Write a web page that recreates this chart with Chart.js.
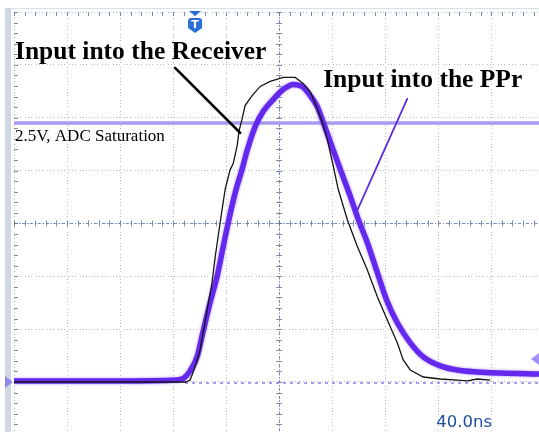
<!DOCTYPE html>
<html>
<head>
<meta charset="utf-8">
<title>Receiver / PPr input pulse</title>
<style>
  html, body { margin: 0; padding: 0; background: #ffffff; overflow: hidden; }
  #wrap { width: 539px; height: 432px; position: relative; }
</style>
<script src="https://cdn.jsdelivr.net/npm/chart.js@4.4.1/dist/chart.umd.min.js"></script>
</head>
<body>
<div id="wrap"><canvas id="scope" width="539" height="432"></canvas></div>
<script>
// Time axis in ns, amplitude in V.
const ppTime  = [0, 34.7, 80, 123, 128.3, 132.8, 138.1, 142.6, 147.9, 153.2, 157.7, 161.5, 166.8, 172.1, 175.8, 181.9, 187.9, 195.5, 203, 210.6, 217.4, 223.4, 228.7, 232.5, 238.5, 246, 253.6, 259.6, 266.4, 274, 281.5, 289.1, 298.9, 308.7, 321.5, 334.3, 349.4, 366.8, 396];
const ppVolts = [0.01, 0.01, 0.01, 0.019, 0.039, 0.107, 0.242, 0.485, 0.766, 1.018, 1.300, 1.532, 1.823, 2.056, 2.231, 2.464, 2.609, 2.725, 2.822, 2.871, 2.851, 2.764, 2.658, 2.531, 2.318, 2.056, 1.794, 1.571, 1.348, 1.057, 0.776, 0.572, 0.378, 0.242, 0.155, 0.116, 0.097, 0.087, 0.078];

const rxTime  = [0, 129.8, 132.8, 136.6, 140.4, 145.7, 149.4, 151.7, 154.0, 157.0, 159.3, 163.0, 165.3, 168.3, 169.8, 172.1, 174.3, 179.6, 185.7, 193.2, 203.0, 212.1, 218.1, 223.4, 228.7, 232.5, 236.2, 240.8, 244.5, 251.3, 258.9, 266.4, 274, 281.5, 289.1, 293.6, 298.9, 308.7, 321.5, 334.3, 341.9, 349.4, 359.2];
const rxVolts = [0, 0, 0.019, 0.145, 0.310, 0.698, 0.960, 1.203, 1.406, 1.668, 1.862, 2.047, 2.105, 2.279, 2.425, 2.541, 2.667, 2.764, 2.852, 2.900, 2.939, 2.939, 2.881, 2.803, 2.638, 2.512, 2.347, 2.085, 1.862, 1.571, 1.309, 1.086, 0.824, 0.601, 0.378, 0.213, 0.116, 0.048, 0.029, 0.019, 0.010, 0.029, 0.019];

const saturationLevel = 2.5;
const saturationText  = '2.5V, ADC Saturation';
const groundRefLevel  = -0.01;
const groundRefStart  = 129;
const triggerTime     = 136.6;
const triggerLevel    = 0.222;
const timeBaseText    = '40.0ns';
const nsPerDiv        = 40;
const voltsPerDiv     = 0.51;
const rxLabel = 'Input into the Receiver';
const ppLabel = 'Input into the PPr';

// annotation anchors (data units)
const rxLabelAt   = { x: 0.75, y: 3.113 };
const ppLabelAt   = { x: 233.2, y: 2.843 };
const satLabelAt  = { x: 0.75, y: 2.326 };
const baseLabelAt = { x: 318.5, y: -0.434 };
const rxPointer   = [{ x: 121.5, y: 3.031 }, { x: 170.6, y: 2.403 }];
const ppPointer   = [{ x: 296.6, y: 2.732 }, { x: 258.1, y: 1.631 }];

const X_MIN = 0, X_MAX = 396;
const Y_MIN = -0.4825, Y_MAX = 3.57;

const zip = (xs, ys) => xs.map((x, i) => ({ x, y: ys[i] }));

const scopeDecor = {
  id: 'scopeDecor',
  beforeDraw(chart) {
    const { ctx, chartArea: a } = chart;
    ctx.save();
    ctx.fillStyle = '#ffffff';
    ctx.fillRect(0, 0, chart.width, chart.height);
    // frame bar on the left and faint top rule
    ctx.fillStyle = '#cfd7e2';
    ctx.fillRect(a.left - 9, a.top - 4, 6, chart.height);
    ctx.strokeStyle = '#d6e2ea';
    ctx.lineWidth = 1;
    ctx.beginPath();
    ctx.moveTo(a.left - 3, a.top - 3.5);
    ctx.lineTo(a.right, a.top - 3.5);
    ctx.stroke();
    ctx.restore();
  },
  beforeDatasetsDraw(chart) {
    const { ctx, chartArea: a, scales: { x, y } } = chart;
    ctx.save();
    const cx = x.getPixelForValue(5 * nsPerDiv);
    const cy = y.getPixelForValue(3 * voltsPerDiv);
    // center cross lines
    ctx.strokeStyle = 'rgba(80,110,160,0.75)';
    ctx.lineWidth = 1;
    ctx.setLineDash([3, 2, 1, 2]);
    ctx.beginPath();
    ctx.moveTo(a.left, Math.round(cy) + 0.5); ctx.lineTo(a.right, Math.round(cy) + 0.5);
    ctx.moveTo(Math.round(cx) + 0.5, a.top); ctx.lineTo(Math.round(cx) + 0.5, a.bottom);
    ctx.stroke();
    ctx.setLineDash([]);
    // minor ticks, five per division
    ctx.strokeStyle = 'rgba(90,115,160,0.8)';
    ctx.beginPath();
    for (let t = X_MIN; t <= X_MAX; t += nsPerDiv / 5) {
      const px = Math.round(x.getPixelForValue(t)) + 0.5;
      ctx.moveTo(px, a.top); ctx.lineTo(px, a.top + 4);
      ctx.moveTo(px, cy - 3); ctx.lineTo(px, cy + 3);
    }
    for (let v = -voltsPerDiv; v <= Y_MAX + 1e-6; v += voltsPerDiv / 5) {
      const py = Math.round(y.getPixelForValue(v)) + 0.5;
      if (py < a.top || py > a.bottom) continue;
      ctx.moveTo(a.left, py); ctx.lineTo(a.left + 4, py);
      ctx.moveTo(cx - 3, py); ctx.lineTo(cx + 3, py);
    }
    ctx.stroke();
    ctx.restore();
  },
  beforeDatasetDraw(chart, args) {
    const ds = chart.data.datasets[args.index];
    if (ds.glow) {
      const ctx = chart.ctx;
      ctx.save();
      ctx.shadowColor = ds.glow;
      ctx.shadowBlur = 3;
    }
  },
  afterDatasetDraw(chart, args) {
    const ds = chart.data.datasets[args.index];
    if (ds.glow) chart.ctx.restore();
  },
  afterDraw(chart) {
    const { ctx, chartArea: a, scales: { x, y } } = chart;
    const P = (p) => [x.getPixelForValue(p.x), y.getPixelForValue(p.y)];
    ctx.save();

    // channel ground marker (left) and trigger level marker (right)
    const gy = y.getPixelForValue(0);
    ctx.fillStyle = 'rgba(130,110,235,0.75)';
    ctx.beginPath();
    ctx.moveTo(a.left - 9, gy - 6); ctx.lineTo(a.left - 1, gy); ctx.lineTo(a.left - 9, gy + 6);
    ctx.closePath(); ctx.fill();
    const ty = y.getPixelForValue(triggerLevel);
    ctx.fillStyle = 'rgba(140,115,240,0.8)';
    ctx.beginPath();
    ctx.moveTo(a.right, ty - 6); ctx.lineTo(a.right - 8, ty); ctx.lineTo(a.right, ty + 6);
    ctx.closePath(); ctx.fill();

    // trigger position marker
    const tx = x.getPixelForValue(triggerTime);
    ctx.fillStyle = '#2b6fd6';
    ctx.beginPath();
    ctx.moveTo(tx - 6, a.top - 1); ctx.lineTo(tx + 6, a.top - 1); ctx.lineTo(tx, a.top + 4);
    ctx.closePath(); ctx.fill();
    ctx.beginPath();
    const sx = tx - 7, sy = a.top + 6, sw = 14, sh = 15;
    ctx.moveTo(sx + 3, sy);
    ctx.lineTo(sx + sw - 3, sy);
    ctx.quadraticCurveTo(sx + sw, sy, sx + sw, sy + 3);
    ctx.lineTo(sx + sw, sy + sh - 5);
    ctx.lineTo(tx, sy + sh);
    ctx.lineTo(sx, sy + sh - 5);
    ctx.lineTo(sx, sy + 3);
    ctx.quadraticCurveTo(sx, sy, sx + 3, sy);
    ctx.closePath(); ctx.fill();
    ctx.fillStyle = '#ffffff';
    ctx.font = 'bold 11px "DejaVu Sans", sans-serif';
    ctx.textAlign = 'center';
    ctx.textBaseline = 'middle';
    ctx.fillText('T', tx, sy + 7);

    // pointer lines
    ctx.lineCap = 'round';
    let p0 = P(rxPointer[0]), p1 = P(rxPointer[1]);
    ctx.strokeStyle = '#000000';
    ctx.lineWidth = 2.6;
    ctx.beginPath(); ctx.moveTo(p0[0], p0[1]); ctx.lineTo(p1[0], p1[1]); ctx.stroke();
    p0 = P(ppPointer[0]); p1 = P(ppPointer[1]);
    ctx.strokeStyle = '#5a2ee0';
    ctx.lineWidth = 1.8;
    ctx.beginPath(); ctx.moveTo(p0[0], p0[1]); ctx.lineTo(p1[0], p1[1]); ctx.stroke();

    // labels
    ctx.textAlign = 'left';
    ctx.textBaseline = 'alphabetic';
    ctx.fillStyle = '#000000';
    ctx.font = 'bold 25.5px "Liberation Serif", "Times New Roman", serif';
    let q = P(rxLabelAt); ctx.fillText(rxLabel, q[0], q[1]);
    q = P(ppLabelAt); ctx.fillText(ppLabel, q[0], q[1]);
    ctx.font = '17px "Liberation Serif", "Times New Roman", serif';
    q = P(satLabelAt); ctx.fillText(saturationText, q[0], q[1]);
    ctx.fillStyle = '#1f4fa3';
    ctx.font = '16.5px "DejaVu Sans", sans-serif';
    q = P(baseLabelAt); ctx.fillText(timeBaseText, q[0], q[1]);
    ctx.restore();
  }
};

new Chart(document.getElementById('scope'), {
  type: 'scatter',
  data: {
    datasets: [
      {
        label: rxLabel,
        data: zip(rxTime, rxVolts),
        showLine: true,
        borderColor: '#141414',
        borderWidth: 1.3,
        pointRadius: 0,
        tension: 0
      },
      {
        label: ppLabel,
        data: zip(ppTime, ppVolts),
        showLine: true,
        borderColor: '#6429ec',
        borderWidth: 5.5,
        pointRadius: 0,
        cubicInterpolationMode: 'monotone',
        glow: 'rgba(140,100,255,0.7)'
      },
      {
        label: saturationText,
        data: [{ x: X_MIN, y: saturationLevel }, { x: X_MAX, y: saturationLevel }],
        showLine: true,
        borderColor: '#a79bf0',
        borderWidth: 3.5,
        pointRadius: 0
      },
      {
        label: 'ground reference',
        data: [{ x: groundRefStart, y: groundRefLevel }, { x: X_MAX, y: groundRefLevel }],
        showLine: true,
        borderColor: '#8c7ee6',
        borderWidth: 1.5,
        borderDash: [3, 4],
        pointRadius: 0
      }
    ]
  },
  options: {
    responsive: false,
    animation: false,
    devicePixelRatio: 1,
    layout: { padding: { left: 14, top: 12, right: 0, bottom: 0 } },
    plugins: { legend: { display: false }, tooltip: { enabled: false } },
    scales: {
      x: {
        type: 'linear',
        min: X_MIN,
        max: X_MAX,
        afterBuildTicks(scale) {
          const t = [];
          for (let v = X_MIN; v <= X_MAX; v += nsPerDiv) t.push({ value: v });
          scale.ticks = t;
        },
        ticks: { display: false },
        grid: { color: 'rgba(120,140,175,0.6)', lineWidth: 1, drawTicks: false },
        border: { display: false, dash: [1, 2, 1, 2, 1, 4] }
      },
      y: {
        type: 'linear',
        min: Y_MIN,
        max: Y_MAX,
        afterBuildTicks(scale) {
          const t = [];
          for (let k = 0; k <= 7; k++) t.push({ value: +(k * voltsPerDiv).toFixed(4) });
          scale.ticks = t;
        },
        ticks: { display: false },
        grid: { color: 'rgba(120,140,175,0.6)', lineWidth: 1, drawTicks: false },
        border: { display: false, dash: [1, 2, 1, 2, 1, 4] }
      }
    }
  },
  plugins: [scopeDecor]
});
</script>
</body>
</html>
